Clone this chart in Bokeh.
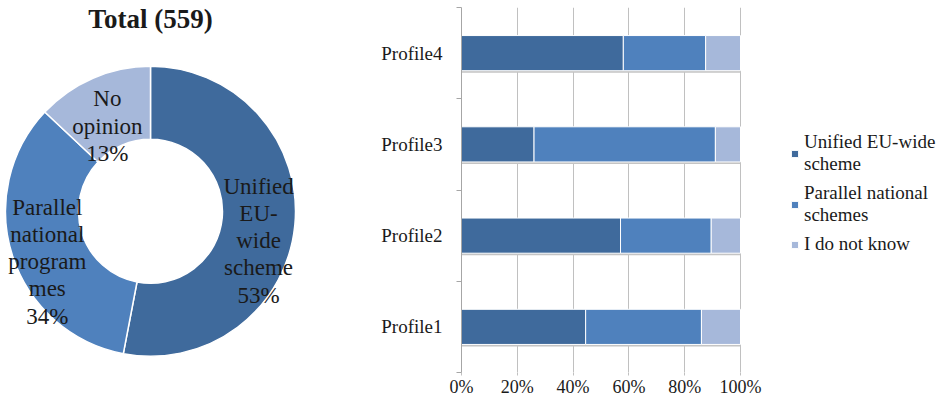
import math
from bokeh.plotting import figure
from bokeh.models import Range1d, FixedTicker, Legend, LegendItem, ColumnDataSource
from bokeh.layouts import row
from bokeh.embed import file_html
from bokeh.resources import INLINE
from bokeh.core.properties import value

# ---------------- data ----------------
donut_title = "Total (559)"
donut_names = ["Unified\nEU-\nwide\nscheme\n53%",
               "Parallel\nnational\nprogram\nmes\n34%",
               "No\nopinion\n13%"]
donut_values = [53, 34, 13]

profiles = ["Profile1", "Profile2", "Profile3", "Profile4"]
unified = [44.5, 57, 26, 58]
parallel = [41.5, 32.5, 65, 29.5]
dontknow = [14, 10.5, 9, 12.5]
series_names = ["Unified EU-wide\nscheme", "Parallel national\nschemes", "I do not know"]
x_ticks = [0, 20, 40, 60, 80, 100]
x_tick_labels = ["0%", "20%", "40%", "60%", "80%", "100%"]

colors = ["#3F6A9C", "#4F81BD", "#A6B8DA"]
FONT = "Liberation Serif"
TXT = "#1a1a1a"

# ---------------- donut ----------------
W1, H1 = 338, 403
cx_px, cy_px = 150, 225
R_OUT, R_IN = 145, 72
LABEL_PX = 23
LABEL_LH = 1.09
p1 = figure(width=W1, height=H1, output_backend="svg", toolbar_location=None,
            x_range=Range1d(-cx_px, W1 - cx_px), y_range=Range1d(-(H1 - cy_px), cy_px),
            min_border=0)
p1.axis.visible = False
p1.grid.visible = False
p1.outline_line_color = None

total = sum(donut_values)
starts, ends, lx, ly, yoff = [], [], [], [], []
cum = 0.0
r_mid = (R_OUT + R_IN) / 2
for v, name in zip(donut_values, donut_names):
    f0 = cum / total
    f1 = (cum + v) / total
    starts.append(math.pi / 2 - 2 * math.pi * f0)
    ends.append(math.pi / 2 - 2 * math.pi * f1)
    fm = (f0 + f1) / 2
    lx.append(r_mid * math.sin(2 * math.pi * fm))
    ly.append(r_mid * math.cos(2 * math.pi * fm))
    n_lines = len(name.split("\n"))
    yoff.append((n_lines - 1) * 7.5 - 10)     # screen px, visual centring of the text block
    cum += v

src1 = ColumnDataSource(dict(start=starts, end=ends, color=colors, lx=lx, ly=ly, name=donut_names, yoff=yoff))
p1.annular_wedge(x=0, y=0, inner_radius=R_IN, outer_radius=R_OUT,
                 start_angle="start", end_angle="end", direction="clock",
                 fill_color="color", line_color="white", line_width=1.5, source=src1)
p1.text(x="lx", y="ly", text="name", source=src1, text_align="center", text_baseline="middle",
        y_offset="yoff",
        text_font=value(FONT), text_font_size=f"{LABEL_PX}px", text_color=TXT, text_line_height=LABEL_LH)
p1.text(x=[0], y=[cy_px - 13], text=[donut_title], text_align="center", text_baseline="middle",
        text_font=value(FONT), text_font_size="27px", text_font_style="bold", text_color=TXT)

# ---------------- stacked bars ----------------
W2, H2 = 604, 403
BORDER_L = 123
AXIS_PX = 279                       # pixels from 0% to 100%
frame_w = W2 - BORDER_L
x_end = 100 * frame_w / AXIS_PX     # frame extends past 100% to hold the legend
p2 = figure(width=W2, height=H2, output_backend="svg", toolbar_location=None,
            x_range=Range1d(0, x_end), y_range=Range1d(0, len(profiles)),
            min_border_left=BORDER_L, min_border_right=0, min_border_top=7, min_border_bottom=31)
p2.outline_line_color = None
p2.ygrid.visible = False
p2.xgrid.ticker = FixedTicker(ticks=x_ticks)
p2.xgrid.grid_line_color = "#C0C0C0"
p2.xgrid.grid_line_width = 1

ys = [i + 0.5 for i in range(len(profiles))]
bar_h = 0.385

# shadow line beneath bars
p2.hbar(y=[y - 0.022 for y in ys], left=0, right=[u + p + d for u, p, d in zip(unified, parallel, dontknow)],
        height=bar_h, fill_color="#C4C4C4", line_color=None)

left1 = [0] * len(profiles)
right1 = unified
left2 = right1
right2 = [a + b for a, b in zip(unified, parallel)]
left3 = right2
right3 = [a + b for a, b in zip(right2, dontknow)]
renderers = []
for (l, r), c in zip([(left1, right1), (left2, right2), (left3, right3)], colors):
    rr = p2.hbar(y=ys, left=l, right=r, height=bar_h, fill_color=c, line_color="white", line_width=1)
    renderers.append(rr)

# x axis
p2.xaxis.ticker = FixedTicker(ticks=x_ticks)
p2.xaxis.major_label_overrides = {t: s for t, s in zip(x_ticks, x_tick_labels)}
p2.xaxis.axis_line_color = None
p2.xaxis.major_tick_in = 0
p2.xaxis.major_tick_out = 3
p2.xaxis.major_tick_line_color = "#C0C0C0"
p2.xaxis.minor_tick_line_color = None
p2.xaxis.major_label_text_font = FONT
p2.xaxis.major_label_text_font_size = "18px"
p2.xaxis.major_label_text_color = TXT
p2.xaxis.major_label_standoff = 1

# y axis
p2.yaxis.ticker = FixedTicker(ticks=ys, minor_ticks=list(range(len(profiles) + 1)))
p2.yaxis.major_label_overrides = {y: n for y, n in zip(ys, profiles)}
p2.yaxis.axis_line_color = "#A6A6A6"
p2.yaxis.major_tick_line_color = None
p2.yaxis.minor_tick_in = 0
p2.yaxis.minor_tick_out = 5
p2.yaxis.minor_tick_line_color = "#A6A6A6"
p2.yaxis.major_label_text_font = FONT
p2.yaxis.major_label_text_font_size = "19px"
p2.yaxis.major_label_text_color = TXT
p2.yaxis.major_label_standoff = 13

legend = Legend(items=[LegendItem(label=n, renderers=[r]) for n, r in zip(series_names, renderers)],
                location=(329, 117), margin=0, padding=0,
                label_text_font=FONT, label_text_font_size="19px", label_text_color=TXT,
                label_text_line_height=1.22,
                glyph_width=9, glyph_height=9, label_standoff=5, spacing=7,
                border_line_color=None, background_fill_alpha=0)
p2.add_layout(legend)

layout = row(p1, p2)
open("out.html", "w").write(file_html(layout, INLINE))
